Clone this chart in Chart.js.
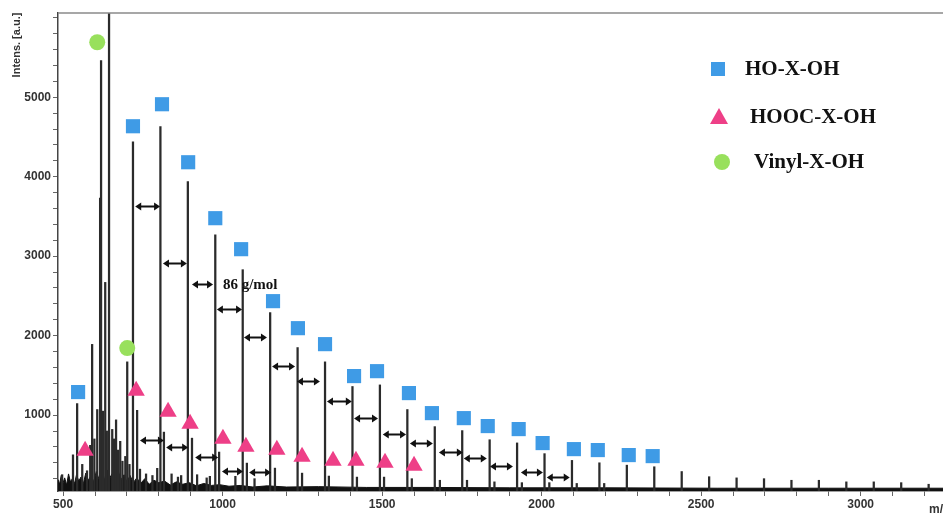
<!DOCTYPE html>
<html>
<head>
<meta charset="utf-8">
<script src="https://cdn.jsdelivr.net/npm/chart.js@4"></script>
<style>
  html, body { margin: 0; padding: 0; background: #fff; }
  #wrap { width: 943px; height: 515px; }
</style>
</head>
<body>
<div id="wrap"><canvas id="spectrum" width="943" height="515"></canvas></div>
<script>
/*
* MALDI spectrum: sticks for the peaks, a dark noise band along the base,
* and the three end-group series marked with squares, triangles and circles.
*/

// legend names
const seriesNames = ['HO-X-OH', 'HOOC-X-OH', 'Vinyl-X-OH'];

// labelled ticks
const xTickLabels = [500, 1000, 1500, 2000, 2500, 3000];
const yTickLabels = [1000, 2000, 3000, 4000, 5000];

// peaks (m/z, intensity)
const peakMz = [497, 531, 544, 560, 575, 585, 591, 598, 607, 616,
   619, 625, 632, 637, 644, 654, 660, 666, 672, 679,
   686, 695, 701, 708, 719, 732, 741, 760, 780, 795,
   805, 816, 840, 860, 870, 891, 904, 920, 950, 960,
   977, 989, 1040, 1063, 1076, 1100, 1149, 1164, 1235, 1249,
   1321, 1333, 1407, 1421, 1493, 1506, 1579, 1593, 1665, 1681,
   1751, 1766, 1837, 1852, 1923, 1938, 2009, 2024, 2095, 2110,
   2181, 2196, 2267, 2353, 2439, 2525, 2611, 2697, 2783, 2869,
   2955, 3041, 3127, 3213];
const peakInt = [250, 500, 1145, 380, 300, 620, 1890, 700, 1070, 3730,
   5460, 1050, 2670, 800, 6500, 820, 700, 940, 560, 670,
   420, 480, 1670, 380, 4440, 1060, 320, 260, 240, 330,
   4630, 786, 260, 220, 240, 3940, 710, 250, 210, 230,
   3270, 535, 230, 2830, 396, 200, 2290, 333, 1850, 270,
   1670, 233, 1360, 220, 1380, 220, 1070, 200, 855, 180,
   805, 180, 690, 160, 650, 150, 515, 150, 430, 140,
   400, 140, 370, 350, 290, 225, 210, 200, 180, 180,
   160, 160, 150, 130];

// top edge of the baseline noise
const noiseMz = [484, 489, 494, 500, 505, 511, 517, 523, 529, 536,
   542, 549, 556, 563, 571, 579, 588, 596, 604, 612,
   621, 629, 638, 646, 655, 664, 673, 682, 691, 700,
   710, 720, 731, 743, 756, 770, 785, 800, 818, 836,
   855, 875, 896, 918, 941, 965, 990, 1020, 1055, 1095,
   1140, 1200, 1300, 1450, 1650, 1900, 2200, 2550, 2900, 3260];
const noiseTop = [190, 130, 240, 150, 210, 120, 260, 160, 200, 140,
   250, 170, 220, 130, 270, 180, 240, 160, 290, 200,
   260, 180, 310, 210, 270, 170, 290, 190, 250, 160,
   240, 150, 210, 140, 200, 130, 180, 150, 170, 120,
   160, 130, 150, 110, 140, 115, 125, 105, 115, 95,
   110, 95, 100, 90, 90, 85, 85, 80, 80, 80];

// series markers
const hoMz = [547, 719, 810, 892, 977, 1058, 1158, 1236, 1321, 1412, 1484,
   1584, 1656, 1756, 1831, 1928, 2003, 2101, 2176, 2273, 2348];
const hoInt = [1290, 4635, 4912, 4182, 3478, 3088, 2434, 2094, 1893, 1491, 1553,
   1277, 1025, 962, 862, 824, 648, 572, 560, 497, 484];
const hoocMz = [569, 729, 829, 898, 1001, 1073, 1170, 1249, 1346, 1418, 1509, 1600];
const hoocInt = [552, 1307, 1043, 892, 703, 602, 565, 477, 426, 426, 401, 363];
const vinylMz = [607, 701];
const vinylInt = [5692, 1843];

// 86 g/mol spacing arrows: from, to, height
const arrowFrom = [726, 813, 904, 982, 1067, 1155, 1233, 1327, 1412, 1502, 1587,
   1678, 1756, 1838, 1935, 2016, 741, 823, 914, 998, 1083];
const arrowTo = [804, 888, 970, 1061, 1139, 1227, 1305, 1405, 1487, 1575, 1659,
   1753, 1828, 1910, 2004, 2088, 816, 892, 986, 1064, 1152];
const arrowAt = [3629, 2912, 2648, 2333, 1981, 1616, 1428, 1176, 962, 761, 648,
   535, 459, 358, 283, 220, 686, 597, 472, 296, 283];

const BLUE = '#3f9be6';
const PINK = '#ee3f87';
const GREEN = '#98e05c';
const SERIF = '"Liberation Serif", "DejaVu Serif", serif';
const SANS = '"Liberation Sans", Arial, sans-serif';

function pairs(xs, ys) {
   return xs.map((x, i) => ({ x: x, y: ys[i] }));
}

/*
* minor ticks every step between from and to, the labelled ones come from the arrays
*/
function tickList(from, to, step) {
   const list = [];
   for (let v = from; v <= to; v += step) {
      list.push({ value: v });
   }
   return list;
}

/*
* draws a black double headed arrow between two pixel positions
*/
function drawArrow(ctx, x1, x2, y) {
   const head = 6, half = 4;
   ctx.beginPath();
   ctx.moveTo(x1 + head - 1, y);
   ctx.lineTo(x2 - head + 1, y);
   ctx.stroke();
   ctx.beginPath();
   ctx.moveTo(x1, y);
   ctx.lineTo(x1 + head, y - half);
   ctx.lineTo(x1 + head, y + half);
   ctx.closePath();
   ctx.moveTo(x2, y);
   ctx.lineTo(x2 - head, y - half);
   ctx.lineTo(x2 - head, y + half);
   ctx.closePath();
   ctx.fill();
}

const extras = {
   id: 'extras',
   afterDatasetsDraw(chart) {
      const ctx = chart.ctx;
      const x = chart.scales.x, y = chart.scales.y;
      const area = chart.chartArea;
      ctx.save();

      // top frame line
      ctx.strokeStyle = '#8a8a8a';
      ctx.lineWidth = 1.5;
      ctx.beginPath();
      ctx.moveTo(area.left, area.top);
      ctx.lineTo(chart.width, area.top);
      ctx.stroke();

      // spacing arrows
      ctx.strokeStyle = '#111';
      ctx.fillStyle = '#111';
      ctx.lineWidth = 2;
      arrowFrom.forEach((from, i) => {
         drawArrow(ctx, x.getPixelForValue(from), x.getPixelForValue(arrowTo[i]),
            Math.round(y.getPixelForValue(arrowAt[i])) + 0.5);
      });

      // spacing label
      ctx.fillStyle = '#111';
      ctx.font = 'bold 15px ' + SERIF;
      ctx.textBaseline = 'middle';
      ctx.textAlign = 'left';
      ctx.fillText('86 g/mol', x.getPixelForValue(1001), y.getPixelForValue(2635));

      // legend
      const lx = 718, rows = [69, 117, 162], textX = [745, 750, 754];
      ctx.fillStyle = BLUE;
      ctx.fillRect(lx - 7, rows[0] - 7, 14, 14);
      ctx.fillStyle = PINK;
      ctx.beginPath();
      ctx.moveTo(lx + 1, rows[1] - 9);
      ctx.lineTo(lx + 10, rows[1] + 7);
      ctx.lineTo(lx - 8, rows[1] + 7);
      ctx.closePath();
      ctx.fill();
      ctx.fillStyle = GREEN;
      ctx.beginPath();
      ctx.arc(lx + 4, rows[2], 8, 0, Math.PI * 2);
      ctx.fill();
      ctx.fillStyle = '#111';
      ctx.font = 'bold 21px ' + SERIF;
      seriesNames.forEach((name, i) => {
         ctx.fillText(name, textX[i], rows[i] + 1);
      });

      // axis titles
      ctx.font = 'bold 12px ' + SANS;
      ctx.fillStyle = '#333';
      ctx.textBaseline = 'middle';
      ctx.fillText('m/z', 929, 510);
      ctx.save();
      ctx.translate(17, 45);
      ctx.rotate(-Math.PI / 2);
      ctx.textAlign = 'center';
      ctx.font = 'bold 11px ' + SANS;
      ctx.fillText('Intens. [a.u.]', 0, 0);
      ctx.restore();

      ctx.restore();
   }
};

const chartData = {
   datasets: [
      {
         type: 'scatter',
         label: seriesNames[0],
         data: pairs(hoMz, hoInt),
         pointStyle: 'rect',
         pointRadius: 10,
         pointHoverRadius: 10,
         backgroundColor: BLUE,
         borderWidth: 0,
         order: 0
      },
      {
         type: 'scatter',
         label: seriesNames[1],
         data: pairs(hoocMz, hoocInt),
         pointStyle: 'triangle',
         pointRadius: 10,
         pointHoverRadius: 10,
         backgroundColor: PINK,
         borderWidth: 0,
         order: 0
      },
      {
         type: 'scatter',
         label: seriesNames[2],
         data: pairs(vinylMz, vinylInt),
         pointStyle: 'circle',
         pointRadius: 8,
         pointHoverRadius: 8,
         backgroundColor: GREEN,
         borderWidth: 0,
         order: 0
      },
      {
         type: 'bar',
         label: 'peaks',
         data: pairs(peakMz, peakInt),
         backgroundColor: '#2b2b2b',
         barThickness: 1.6,
         grouped: false,
         order: 2
      },
      {
         type: 'line',
         label: 'noise',
         data: pairs(noiseMz, noiseTop),
         borderColor: '#111',
         backgroundColor: '#111',
         borderWidth: 1,
         pointRadius: 0,
         tension: 0,
         fill: 'start',
         order: 3
      }
   ]
};

const chartOptions = {
   responsive: false,
   animation: false,
   layout: { autoPadding: false, padding: { top: 13, right: 0, bottom: 0, left: 0 } },
   scales: {
      x: {
         type: 'linear',
         min: 484,
         max: 3258,
         offset: false,
         afterFit: s => { s.height = 24; },
         afterBuildTicks: s => { s.ticks = tickList(500, 3200, 100); },
         border: { display: true, color: '#444', width: 1.5 },
         grid: { drawOnChartArea: false, offset: false, color: '#666', tickLength: 5 },
         ticks: {
            autoSkip: false,
            maxRotation: 0,
            padding: 1,
            color: '#333',
            font: { family: SANS, size: 12, weight: 'bold' },
            callback: v => (xTickLabels.includes(v) ? v : '')
         }
      },
      y: {
         type: 'linear',
         min: 45,
         max: 6060,
         afterFit: s => { s.width = 58; },
         afterBuildTicks: s => { s.ticks = tickList(200, 6000, 200); },
         border: { display: true, color: '#444', width: 1.5 },
         grid: { drawOnChartArea: false, color: '#666', tickLength: 5 },
         ticks: {
            autoSkip: false,
            padding: 2,
            color: '#333',
            font: { family: SANS, size: 12, weight: 'bold' },
            callback: v => (yTickLabels.includes(v) ? v : '')
         }
      }
   },
   plugins: {
      legend: { display: false },
      tooltip: { enabled: false }
   }
};

new Chart(document.querySelector('#spectrum'), {
   type: 'scatter',
   data: chartData,
   options: chartOptions,
   plugins: [extras]
});
</script>
</body>
</html>
